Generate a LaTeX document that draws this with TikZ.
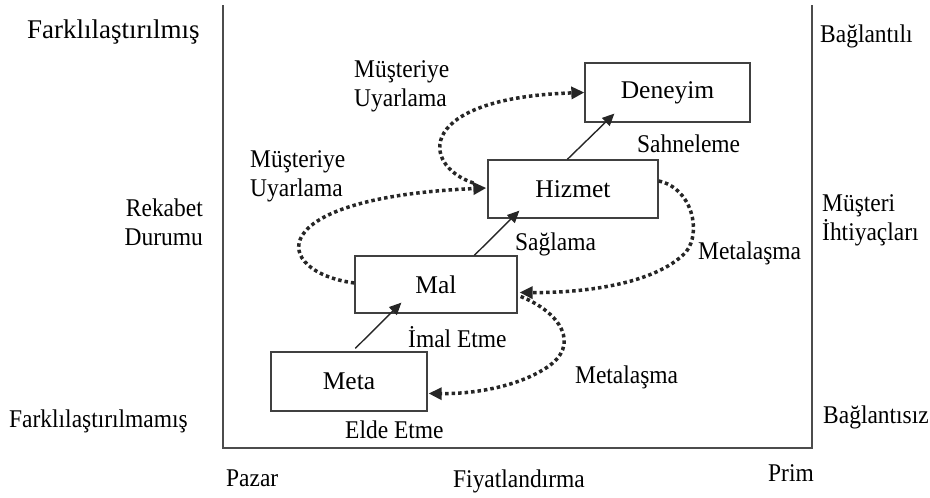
\documentclass[tikz,border=0pt]{standalone}
\usepackage{fontspec}
\setmainfont{Liberation Serif}
\newfontfamily\narrowserif{Liberation Serif}[FakeStretch=0.92]
\usetikzlibrary{arrows.meta,calc}
\begin{document}
\begin{tikzpicture}[x=1pt,y=-1pt,
  lbl/.style={inner sep=0pt,font=\narrowserif\fontsize{25.5}{29}\selectfont},
  bigtitle/.style={inner sep=0pt,font=\fontsize{27}{31}\selectfont},
  stage/.style={draw=black!75,line width=1.3pt,inner sep=0pt,
    font=\fontsize{25.5}{29}\selectfont},
  flow/.style={draw=black!85,line width=1.4pt,-{Triangle[length=12pt,width=11pt]}},
  loop/.style={draw=black!85,line width=3.5pt,dash pattern=on 3.5pt off 3pt,
    -{Triangle[length=13pt,width=12pt]}}]

\useasboundingbox (0,0) rectangle (930,498);

% open frame: left, bottom and right sides
\draw[black!70,line width=1.5pt] (223,5) -- (223,448) -- (812,448) -- (812,5);

% stages
\node[stage,minimum width=165pt,minimum height=59pt] (den)  at (667.5,92.5) {Deneyim};
\node[stage,minimum width=170pt,minimum height=58pt] (hiz)  at (573,189)    {Hizmet};
\node[stage,minimum width=162pt,minimum height=57pt] (mal)  at (436,284.5)  {Mal};
\node[stage,minimum width=156pt,minimum height=59pt] (meta) at (349,381.5)  {Meta};

% progression arrows
\draw[flow] ($(meta.north west)+(85,-3)$) -- ($(mal.south west)+(47,-11)$);
\draw[flow] ($(mal.north west)+(120,0)$)  -- ($(hiz.south west)+(32,-8)$);
\draw[flow] ($(hiz.north west)+(80,0)$)   -- ($(den.south west)+(30,-9)$);

% customisation loops
\draw[loop] ($(mal.west)+(0,-1.5)$) .. controls (272,272) and (258,198) .. ($(hiz.west)+(-1,-1)$);
\draw[loop] ($(hiz.west)+(-14,-6)$) .. controls (420,165) and (415,98) .. (den.west);

% commoditisation loops
\draw[loop] ($(hiz.east)+(0,-8)$) .. controls (692,188) and (702,232) .. (686,252)
            .. controls (655,285) and (580,293) .. ($(mal.east)+(2,8)$);
\draw[loop] ($(mal.east)+(3,12)$) .. controls (560,312) and (582,345) .. (546,368)
            .. controls (515,388) and (470,394) .. ($(meta.east)+(1,12)$);

% loop and step labels
\node[lbl,align=left,anchor=west] (mu1) at (354,86.5) {Müşteriye\\Uyarlama};
\node[lbl,align=left,anchor=west] (mu2) at (250,176)  {Müşteriye\\Uyarlama};
\node[lbl,anchor=base west] (sah) at (637,152) {Sahneleme};
\node[lbl,anchor=base west] (sag) at (515,250) {Sağlama};
\node[lbl,anchor=base west] (me1) at (698,259) {Metalaşma};
\node[lbl,anchor=base west] (me2) at (575,383) {Metalaşma};
\node[lbl,anchor=base west] (ima) at (408,347) {İmal Etme};
\node[lbl,anchor=base west] (eld) at (345,438) {Elde Etme};

% left axis
\node[bigtitle,anchor=base west] (fa1) at (27,38) {Farklılaştırılmış};
\node[lbl,anchor=base west] (fa2) at (9,427) {Farklılaştırılmamış};
\node[lbl,align=right,anchor=east] (rek) at (203,222) {Rekabet\\Durumu};

% right axis
\node[lbl,anchor=base west] (ba1) at (820,42) {Bağlantılı};
\node[lbl,align=left,anchor=west] (mus) at (822,220) {Müşteri\\İhtiyaçları};
\node[lbl,anchor=base west] (ba2) at (823,423) {Bağlantısız};

% bottom axis
\node[lbl,anchor=base west] (paz) at (226,486) {Pazar};
\node[lbl,anchor=base west] (fiy) at (453,487) {Fiyatlandırma};
\node[lbl,anchor=base east] (pri) at (814,481) {Prim};
\end{tikzpicture}
\end{document}
